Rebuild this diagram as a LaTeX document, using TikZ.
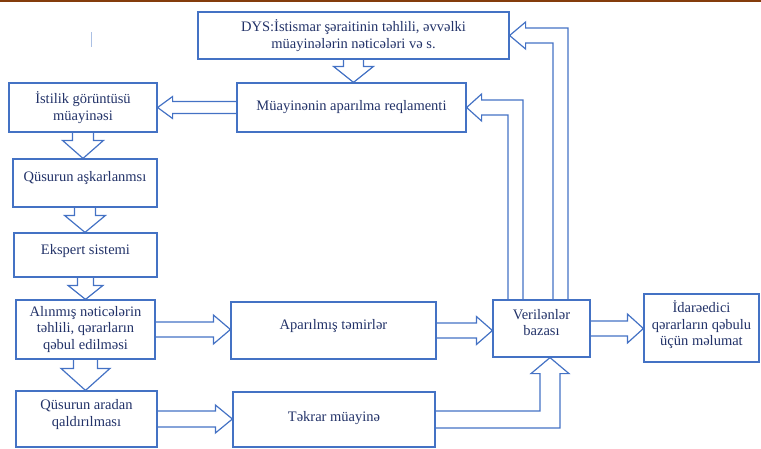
\documentclass[tikz,border=0pt]{standalone}
\usepackage{fontspec}
\setmainfont{Liberation Serif}
\usetikzlibrary{calc}

\definecolor{boxblue}{RGB}{68,114,196}
\definecolor{textnavy}{RGB}{34,50,104}
\definecolor{rulebrown}{RGB}{132,60,12}

\tikzset{
  box/.style={draw=boxblue, line width=1.2pt, align=center, inner sep=2pt,
    text=textnavy, font=\fontsize{14.5}{16.5}\selectfont},
  lift/.style={text depth=#1},
  blockarrow/.style={draw=boxblue, line width=1.2pt, line join=miter}
}

% hollow block arrows: from, to, shaft half width, head half width, head length
\newcommand\blockdown[5]{%
  \draw[blockarrow] let \p1=(#1.south), \p2=(#2.north) in
    (\x1-#3pt,\y1) -- (\x1-#3pt,\y2+#5pt) -- (\x1-#4pt,\y2+#5pt) -- (\x1,\y2)
    -- (\x1+#4pt,\y2+#5pt) -- (\x1+#3pt,\y2+#5pt) -- (\x1+#3pt,\y1);}
\newcommand\blockright[5]{%
  \draw[blockarrow] let \p1=(#1.east), \p2=(#2.west) in
    (\x1,\y1+#3pt) -- (\x2-#5pt,\y1+#3pt) -- (\x2-#5pt,\y1+#4pt) -- (\x2,\y1)
    -- (\x2-#5pt,\y1-#4pt) -- (\x2-#5pt,\y1-#3pt) -- (\x1,\y1-#3pt);}
\newcommand\blockleft[5]{%
  \draw[blockarrow] let \p1=(#1.west), \p2=(#2.east) in
    (\x1,\y1+#3pt) -- (\x2+#5pt,\y1+#3pt) -- (\x2+#5pt,\y1+#4pt) -- (\x2,\y1)
    -- (\x2+#5pt,\y1-#4pt) -- (\x2+#5pt,\y1-#3pt) -- (\x1,\y1-#3pt);}
% up out of the top of #1 (column shifted by #3), then left into #2
\newcommand\blockbent[6]{%
  \draw[blockarrow] let \p1=($(#1.north)+(#3,0)$), \p2=(#2.east) in
    (\x1-#4pt,\y1) -- (\x1-#4pt,\y2-#4pt) -- (\x2+#6pt,\y2-#4pt) -- (\x2+#6pt,\y2-#5pt)
    -- (\p2) -- (\x2+#6pt,\y2+#5pt) -- (\x2+#6pt,\y2+#4pt) -- (\x1+#4pt,\y2+#4pt)
    -- (\x1+#4pt,\y1);}

\begin{document}
\begin{tikzpicture}[x=1pt, y=-1pt]
  \useasboundingbox (0,0) rectangle (761,448);
  \draw[rulebrown, line width=1.6pt] (0,0.8) -- (761,0.8);
  \draw[boxblue!45, line width=1pt] (91,32) -- (91,47);

  \node[box, minimum width=311pt, minimum height=47pt] (dys) at (353.5,35.5)
    {DYS:İstismar şəraitinin təhlili, əvvəlki\\ müayinələrin nəticələri və s.};
  \node[box, minimum width=229pt, minimum height=49pt] (regl) at (351.5,107.5)
    {Müayinənin aparılma reqlamenti};
  \node[box, minimum width=148pt, minimum height=49pt] (istilik) at (83,107.5)
    {İstilik görüntüsü\\ müayinəsi};
  \node[box, lift=13pt, minimum width=144pt, minimum height=48pt] (askar) at (85,183)
    {Qüsurun aşkarlanmsı};
  \node[box, lift=11pt, minimum width=143pt, minimum height=44pt] (ekspert) at (85.5,255)
    {Ekspert sistemi};
  \node[box, minimum width=139pt, minimum height=59pt] (tehlil) at (85.5,329.5)
    {Alınmış nəticələrin\\ təhlili, qərarların\\ qəbul edilməsi};
  \node[box, lift=12pt, minimum width=205pt, minimum height=57pt] (temir) at (333.5,330.5)
    {Aparılmış təmirlər};
  \node[box, lift=12pt, minimum width=141pt, minimum height=56pt] (aradan) at (86.5,419)
    {Qüsurun aradan\\ qaldırılması};
  \node[box, lift=6pt, minimum width=202pt, minimum height=55pt] (tekrar) at (334,419.5)
    {Təkrar müayinə};
  \node[box, lift=12pt, minimum width=97pt, minimum height=57pt] (baza) at (541.5,328.5)
    {Verilənlər\\ bazası};
  \node[box, lift=9pt, minimum width=115pt, minimum height=68pt] (idare) at (701.5,328)
    {İdarəedici\\ qərarların qəbulu\\ üçün məlumat};

  \blockdown{dys}{regl}{10}{20}{16}
  \blockleft{regl}{istilik}{6}{11}{15}
  \blockdown{istilik}{askar}{10.5}{20.5}{18}
  \blockdown{askar}{ekspert}{10.5}{20.5}{17}
  \blockdown{ekspert}{tehlil}{8}{17.5}{14}
  \blockdown{tehlil}{aradan}{12}{24.5}{22}
  \blockright{tehlil}{temir}{7.5}{14.5}{17}
  \blockright{aradan}{tekrar}{8}{14}{17}
  \blockright{temir}{baza}{7.5}{14}{16}
  \blockright{baza}{idare}{7.5}{14.5}{16}
  \blockbent{baza}{regl}{-26}{7.5}{13.5}{15}
  \blockbent{baza}{dys}{19}{7.5}{13.5}{16}
  % back from the repeat check into the data base
  \draw[blockarrow] let \p1=(tekrar.east), \p2=($(baza.south)+(8.5,0)$) in
    (\x1,\y1+8.5pt) -- (\x2-10pt,\y1+8.5pt) -- (\x2-10pt,\y2-16pt) -- (\x2-19pt,\y2-16pt)
    -- (\p2) -- (\x2+19pt,\y2-16pt) -- (\x2+10pt,\y2-16pt) -- (\x2+10pt,\y1-8.5pt)
    -- (\x1,\y1-8.5pt);
\end{tikzpicture}
\end{document}
